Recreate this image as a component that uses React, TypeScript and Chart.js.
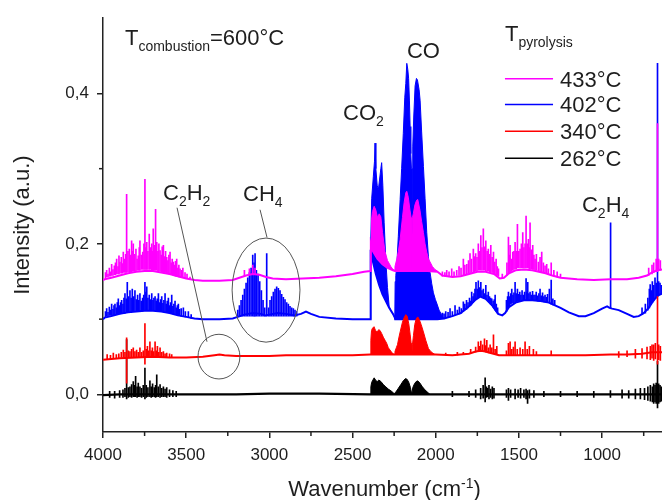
import React, { useEffect, useRef } from 'react';
import { Chart, registerables } from 'chart.js';

Chart.register(...registerables);

type P = [number, number];
type S = [number, number, number];

const FONT = '"Liberation Sans", Arial, Helvetica, sans-serif';
const TEXT = '#1e1e1e';
const AXIS = '#222222';

const seriesLabels = ['433°C', '402°C', '340°C', '262°C'];
const seriesColors = ['#ff00ff', '#0000ff', '#ff0000', '#000000'];
// drawing order (lower = on top): magenta, red, blue, black
const seriesOrder = [1, 3, 2, 4];
const traceWidths = [2, 2, 2, 2.2];

const xTickValues = [4000, 3500, 3000, 2500, 2000, 1500, 1000];
const xTickLabels = ['4000', '3500', '3000', '2500', '2000', '1500', '1000'];
const xMinorTicks = [3750, 3250, 2750, 2250, 1750, 1250, 750];
const yTickValues = [0, 0.2, 0.4];
const yTickLabels = ['0,0', '0,2', '0,4'];
const yMinorTicks = [0.1, 0.3];

// ---------- 433°C (magenta) ----------
const magentaTrace: P[] = [
  [4000, 0.152], [3990, 0.153], [3950, 0.155], [3900, 0.158], [3850, 0.161], [3800, 0.163], [3750, 0.164],
  [3700, 0.164], [3650, 0.162], [3600, 0.16], [3550, 0.157], [3500, 0.154], [3450, 0.152], [3400, 0.151],
  [3300, 0.151], [3220, 0.152], [3180, 0.155], [3140, 0.158], [3100, 0.16], [3060, 0.159], [3020, 0.156],
  [2980, 0.154], [2900, 0.153], [2800, 0.154], [2700, 0.155], [2600, 0.157], [2500, 0.16], [2430, 0.163],
  [2393, 0.164], [2390, 0.2], [2377, 0.19], [2350, 0.18], [2320, 0.173], [2290, 0.168], [2257, 0.165],
  [2245, 0.164], [2150, 0.164], [2050, 0.164], [1990, 0.163], [1960, 0.158], [1900, 0.156], [1850, 0.157],
  [1800, 0.16], [1750, 0.163], [1700, 0.163], [1650, 0.16], [1615, 0.154], [1590, 0.155], [1560, 0.161],
  [1520, 0.165], [1470, 0.166], [1420, 0.165], [1380, 0.163], [1340, 0.161], [1300, 0.158], [1250, 0.155],
  [1150, 0.153], [1050, 0.152], [950, 0.153], [850, 0.153], [780, 0.155], [730, 0.158], [700, 0.162],
  [670, 0.165], [640, 0.166],
];
const magentaBand: P[] = [
  [2392, 0.164], [2389, 0.2], [2386, 0.232], [2380, 0.243], [2370, 0.25], [2360, 0.245], [2350, 0.235],
  [2340, 0.24], [2330, 0.236], [2320, 0.215], [2305, 0.19], [2290, 0.178], [2270, 0.17], [2257, 0.166],
  [2250, 0.165], [2245, 0.17], [2234, 0.18], [2225, 0.19], [2214, 0.206], [2200, 0.235], [2190, 0.255],
  [2180, 0.268], [2174, 0.27], [2165, 0.262], [2155, 0.245], [2148, 0.235], [2145, 0.2], [2144, 0.166],
  [2143, 0.2], [2140, 0.235], [2135, 0.24], [2125, 0.252], [2115, 0.258], [2108, 0.259], [2095, 0.245],
  [2085, 0.23], [2074, 0.215], [2064, 0.2], [2054, 0.189], [2044, 0.18], [2034, 0.176], [2020, 0.17],
  [2005, 0.166], [1990, 0.164],
];
const magentaLines: S[] = [
  [3985, 0.155, 0.162], [3978, 0.156, 0.165], [3970, 0.156, 0.16], [3962, 0.157, 0.168], [3955, 0.157, 0.163],
  [3948, 0.158, 0.173], [3940, 0.158, 0.166], [3932, 0.159, 0.171], [3925, 0.159, 0.175], [3918, 0.16, 0.18],
  [3910, 0.16, 0.17], [3904, 0.16, 0.184], [3898, 0.161, 0.176], [3890, 0.161, 0.182], [3884, 0.161, 0.174],
  [3878, 0.162, 0.189], [3870, 0.162, 0.18], [3864, 0.162, 0.186], [3858, 0.162, 0.266], [3850, 0.163, 0.19],
  [3842, 0.163, 0.193], [3835, 0.163, 0.185], [3828, 0.163, 0.204], [3822, 0.164, 0.19], [3818, 0.164, 0.2],
  [3810, 0.164, 0.186], [3802, 0.164, 0.193], [3795, 0.165, 0.18], [3788, 0.165, 0.184], [3782, 0.165, 0.195],
  [3778, 0.165, 0.204], [3770, 0.166, 0.185], [3761, 0.166, 0.189], [3754, 0.166, 0.2], [3748, 0.166, 0.286],
  [3742, 0.166, 0.195], [3737, 0.166, 0.202], [3730, 0.166, 0.19], [3722, 0.166, 0.213], [3715, 0.166, 0.195],
  [3707, 0.165, 0.2], [3702, 0.165, 0.19], [3698, 0.165, 0.22], [3690, 0.165, 0.198], [3684, 0.165, 0.246],
  [3677, 0.165, 0.202], [3670, 0.164, 0.19], [3664, 0.164, 0.2], [3657, 0.164, 0.191], [3650, 0.163, 0.185],
  [3644, 0.163, 0.196], [3637, 0.163, 0.198], [3630, 0.162, 0.183], [3624, 0.162, 0.19], [3617, 0.161, 0.182],
  [3610, 0.161, 0.178], [3604, 0.16, 0.185], [3597, 0.16, 0.189], [3590, 0.159, 0.175], [3584, 0.159, 0.18],
  [3577, 0.158, 0.176], [3570, 0.158, 0.172], [3564, 0.157, 0.177], [3557, 0.157, 0.18], [3550, 0.157, 0.168],
  [3544, 0.156, 0.172], [3537, 0.156, 0.167], [3528, 0.155, 0.165], [3520, 0.155, 0.168], [3507, 0.154, 0.162],
  [3495, 0.154, 0.16], [3477, 0.153, 0.156],
  [3150, 0.157, 0.165], [3120, 0.159, 0.167], [3100, 0.16, 0.172], [3086, 0.16, 0.168],
  [1960, 0.157, 0.163], [1945, 0.157, 0.162], [1934, 0.157, 0.165], [1920, 0.157, 0.163], [1904, 0.157, 0.167],
  [1890, 0.157, 0.163], [1874, 0.158, 0.165], [1860, 0.158, 0.17], [1848, 0.158, 0.168], [1834, 0.159, 0.18],
  [1825, 0.159, 0.172], [1813, 0.16, 0.173], [1803, 0.161, 0.178], [1794, 0.161, 0.187], [1785, 0.162, 0.18],
  [1774, 0.163, 0.193], [1767, 0.163, 0.183], [1760, 0.164, 0.187], [1752, 0.164, 0.182], [1744, 0.165, 0.2],
  [1737, 0.165, 0.19], [1729, 0.165, 0.211], [1722, 0.165, 0.195], [1714, 0.165, 0.22], [1707, 0.165, 0.196],
  [1699, 0.164, 0.204], [1691, 0.164, 0.19], [1684, 0.164, 0.193], [1676, 0.163, 0.186], [1669, 0.163, 0.198],
  [1661, 0.162, 0.182], [1653, 0.161, 0.189], [1645, 0.16, 0.176], [1637, 0.159, 0.18], [1630, 0.158, 0.17],
  [1623, 0.157, 0.167], [1600, 0.154, 0.16], [1572, 0.158, 0.175], [1563, 0.16, 0.209], [1556, 0.162, 0.185],
  [1553, 0.162, 0.198], [1545, 0.164, 0.18], [1537, 0.165, 0.189], [1530, 0.166, 0.19], [1523, 0.167, 0.202],
  [1516, 0.167, 0.19], [1509, 0.168, 0.226], [1501, 0.168, 0.19], [1493, 0.168, 0.193], [1485, 0.168, 0.2],
  [1477, 0.168, 0.215], [1470, 0.168, 0.195], [1463, 0.168, 0.2], [1457, 0.168, 0.237], [1450, 0.168, 0.2],
  [1443, 0.168, 0.206], [1438, 0.167, 0.195], [1433, 0.167, 0.228], [1425, 0.167, 0.192], [1417, 0.166, 0.198],
  [1410, 0.166, 0.185], [1403, 0.165, 0.18], [1395, 0.165, 0.186], [1383, 0.164, 0.176], [1373, 0.163, 0.182],
  [1363, 0.163, 0.189], [1353, 0.162, 0.175], [1343, 0.162, 0.171], [1333, 0.161, 0.173], [1323, 0.16, 0.167],
  [1306, 0.158, 0.175], [1290, 0.157, 0.165], [1270, 0.156, 0.163], [1250, 0.155, 0.16],
  [720, 0.158, 0.168], [700, 0.16, 0.172], [690, 0.162, 0.175], [675, 0.163, 0.18], [667, 0.163, 0.36],
  [660, 0.165, 0.18], [650, 0.165, 0.178],
];

// ---------- 402°C (blue) ----------
const blueTrace: P[] = [
  [4000, 0.1], [3990, 0.102], [3950, 0.104], [3900, 0.107], [3850, 0.109], [3800, 0.11], [3750, 0.111],
  [3700, 0.111], [3650, 0.11], [3600, 0.108], [3550, 0.105], [3500, 0.103], [3450, 0.101], [3400, 0.1],
  [3300, 0.1], [3220, 0.101], [3190, 0.103], [3150, 0.106], [3100, 0.108], [3050, 0.107], [3025, 0.105],
  [3000, 0.106], [2950, 0.108], [2900, 0.107], [2850, 0.105], [2810, 0.107], [2780, 0.11], [2750, 0.107],
  [2700, 0.103], [2600, 0.101], [2500, 0.1], [2393, 0.1], [2391, 0.185], [2377, 0.176], [2360, 0.16],
  [2340, 0.145], [2320, 0.133], [2300, 0.124], [2280, 0.115], [2257, 0.107], [2246, 0.102], [2244, 0.1],
  [2150, 0.1], [2050, 0.1], [1990, 0.1], [1950, 0.101], [1900, 0.104], [1850, 0.108], [1800, 0.117],
  [1760, 0.126], [1733, 0.13], [1700, 0.127], [1660, 0.118], [1625, 0.107], [1600, 0.105], [1583, 0.108],
  [1560, 0.116], [1520, 0.122], [1470, 0.125], [1420, 0.125], [1370, 0.124], [1320, 0.122], [1290, 0.119],
  [1250, 0.115], [1200, 0.109], [1140, 0.104], [1100, 0.104], [1050, 0.108], [1000, 0.114], [970, 0.117],
  [955, 0.115], [940, 0.114], [900, 0.112], [850, 0.107], [810, 0.103], [780, 0.104], [750, 0.108],
  [720, 0.115], [700, 0.122], [680, 0.128], [660, 0.132], [640, 0.134],
];
const blueBand: P[] = [
  [2393, 0.1], [2391, 0.2], [2385, 0.26], [2375, 0.29], [2368, 0.31], [2365, 0.334], [2360, 0.3],
  [2352, 0.278], [2345, 0.272], [2338, 0.285], [2330, 0.3], [2325, 0.308], [2318, 0.278], [2310, 0.228],
  [2300, 0.178], [2290, 0.142], [2280, 0.117], [2270, 0.112], [2257, 0.107], [2246, 0.102], [2244, 0.15],
  [2240, 0.158], [2234, 0.171], [2225, 0.21], [2214, 0.259], [2205, 0.3], [2195, 0.347], [2186, 0.395],
  [2180, 0.413], [2174, 0.44], [2168, 0.432], [2163, 0.42], [2158, 0.39], [2154, 0.356], [2150, 0.32],
  [2146, 0.3], [2144, 0.1], [2142, 0.3], [2138, 0.33], [2132, 0.37], [2124, 0.41], [2116, 0.42],
  [2110, 0.418], [2100, 0.405], [2094, 0.391], [2085, 0.35], [2074, 0.303], [2064, 0.26], [2054, 0.215],
  [2044, 0.183], [2034, 0.162], [2024, 0.147], [2014, 0.135], [2002, 0.126], [1992, 0.12], [1980, 0.112],
  [1965, 0.106], [1950, 0.1],
];
const blueLines: S[] = [
  [3985, 0.103, 0.11], [3978, 0.104, 0.114], [3970, 0.104, 0.109], [3962, 0.105, 0.116], [3955, 0.105, 0.112],
  [3948, 0.105, 0.12], [3940, 0.106, 0.113], [3934, 0.106, 0.118], [3928, 0.106, 0.12], [3920, 0.107, 0.115],
  [3914, 0.107, 0.122], [3908, 0.107, 0.127], [3900, 0.107, 0.118], [3894, 0.108, 0.122], [3888, 0.108, 0.125],
  [3880, 0.108, 0.12], [3874, 0.108, 0.128], [3868, 0.108, 0.134], [3860, 0.109, 0.127], [3854, 0.109, 0.149],
  [3846, 0.109, 0.13], [3838, 0.109, 0.138], [3831, 0.109, 0.128], [3824, 0.11, 0.14], [3816, 0.11, 0.13],
  [3808, 0.11, 0.138], [3800, 0.11, 0.126], [3792, 0.11, 0.132], [3785, 0.111, 0.125], [3778, 0.111, 0.134],
  [3770, 0.111, 0.124], [3762, 0.111, 0.128], [3755, 0.112, 0.132], [3748, 0.112, 0.149], [3742, 0.112, 0.136],
  [3737, 0.112, 0.143], [3730, 0.112, 0.128], [3722, 0.112, 0.132], [3715, 0.112, 0.126], [3707, 0.112, 0.134],
  [3700, 0.112, 0.125], [3694, 0.112, 0.128], [3687, 0.112, 0.13], [3680, 0.111, 0.124], [3674, 0.111, 0.127],
  [3667, 0.111, 0.134], [3660, 0.111, 0.122], [3654, 0.111, 0.126], [3647, 0.11, 0.13], [3640, 0.11, 0.121],
  [3634, 0.11, 0.125], [3627, 0.11, 0.134], [3620, 0.109, 0.12], [3614, 0.109, 0.124], [3607, 0.109, 0.128],
  [3600, 0.108, 0.118], [3594, 0.108, 0.122], [3587, 0.108, 0.132], [3580, 0.107, 0.117], [3574, 0.107, 0.12],
  [3567, 0.106, 0.124], [3560, 0.106, 0.115], [3553, 0.106, 0.118], [3547, 0.105, 0.12], [3540, 0.105, 0.113],
  [3530, 0.104, 0.114], [3517, 0.104, 0.115], [3505, 0.103, 0.11], [3487, 0.102, 0.11], [3470, 0.101, 0.106],
  // CH4 stretch band (R, Q, P branches)
  [3190, 0.104, 0.112], [3180, 0.104, 0.118], [3170, 0.104, 0.125], [3160, 0.104, 0.132], [3150, 0.104, 0.14],
  [3140, 0.104, 0.148], [3130, 0.104, 0.155], [3120, 0.104, 0.162], [3110, 0.104, 0.168], [3100, 0.104, 0.185],
  [3092, 0.104, 0.175], [3086, 0.104, 0.187], [3078, 0.104, 0.165], [3068, 0.104, 0.16], [3058, 0.104, 0.15],
  [3048, 0.104, 0.138], [3038, 0.104, 0.125], [3028, 0.104, 0.115], [3016, 0.104, 0.187], [3005, 0.104, 0.115],
  [2996, 0.104, 0.125], [2986, 0.104, 0.13], [2976, 0.104, 0.136], [2966, 0.104, 0.14], [2956, 0.104, 0.143],
  [2946, 0.104, 0.141], [2936, 0.104, 0.138], [2926, 0.104, 0.133], [2916, 0.104, 0.129], [2906, 0.104, 0.126],
  [2896, 0.104, 0.122], [2886, 0.104, 0.12], [2876, 0.104, 0.117], [2866, 0.104, 0.115], [2856, 0.104, 0.114],
  [2846, 0.104, 0.112], [2836, 0.104, 0.11],
  [1975, 0.101, 0.106], [1960, 0.101, 0.108], [1950, 0.102, 0.107], [1940, 0.102, 0.11], [1926, 0.103, 0.109],
  [1914, 0.103, 0.114], [1900, 0.104, 0.11], [1884, 0.105, 0.118], [1870, 0.106, 0.112], [1858, 0.107, 0.116],
  [1846, 0.108, 0.114], [1834, 0.11, 0.123], [1825, 0.112, 0.12], [1815, 0.113, 0.125], [1806, 0.115, 0.122],
  [1797, 0.117, 0.128], [1790, 0.118, 0.124], [1784, 0.12, 0.136], [1776, 0.122, 0.13], [1770, 0.124, 0.134],
  [1764, 0.126, 0.14], [1758, 0.127, 0.149], [1751, 0.128, 0.14], [1744, 0.129, 0.151], [1737, 0.13, 0.142],
  [1729, 0.13, 0.149], [1722, 0.13, 0.138], [1714, 0.129, 0.14], [1707, 0.128, 0.134], [1699, 0.127, 0.145],
  [1692, 0.126, 0.132], [1684, 0.124, 0.136], [1677, 0.122, 0.13], [1670, 0.12, 0.128], [1663, 0.118, 0.127],
  [1655, 0.116, 0.124], [1648, 0.114, 0.126], [1643, 0.112, 0.132], [1636, 0.11, 0.12], [1628, 0.108, 0.115],
  [1575, 0.11, 0.125], [1568, 0.114, 0.13], [1563, 0.116, 0.136], [1556, 0.118, 0.13], [1549, 0.12, 0.134],
  [1543, 0.121, 0.14], [1536, 0.122, 0.132], [1530, 0.122, 0.135], [1523, 0.123, 0.149], [1516, 0.123, 0.134],
  [1509, 0.124, 0.14], [1502, 0.124, 0.133], [1495, 0.124, 0.136], [1488, 0.125, 0.132], [1481, 0.125, 0.138],
  [1473, 0.125, 0.132], [1466, 0.125, 0.136], [1457, 0.126, 0.154], [1452, 0.126, 0.136], [1447, 0.126, 0.149],
  [1440, 0.126, 0.134], [1433, 0.125, 0.136], [1426, 0.125, 0.132], [1418, 0.125, 0.137], [1410, 0.125, 0.132],
  [1403, 0.125, 0.132], [1396, 0.125, 0.136], [1388, 0.124, 0.131], [1380, 0.124, 0.134], [1373, 0.124, 0.14],
  [1366, 0.124, 0.131], [1358, 0.124, 0.135], [1350, 0.123, 0.13], [1343, 0.123, 0.132], [1335, 0.123, 0.129],
  [1328, 0.122, 0.133], [1317, 0.122, 0.14], [1306, 0.12, 0.152], [1296, 0.119, 0.127], [1285, 0.118, 0.125],
  [949, 0.115, 0.228],
  [760, 0.106, 0.115], [740, 0.108, 0.12], [725, 0.112, 0.128], [716, 0.115, 0.14], [711, 0.118, 0.146],
  [705, 0.12, 0.138], [698, 0.122, 0.15], [690, 0.125, 0.145], [682, 0.127, 0.155], [675, 0.128, 0.148],
  [667, 0.13, 0.44], [660, 0.132, 0.15], [652, 0.133, 0.148], [645, 0.134, 0.145],
];

// ---------- 340°C (red) ----------
const redTrace: P[] = [
  [4000, 0.046], [3950, 0.047], [3900, 0.048], [3800, 0.049], [3700, 0.05], [3600, 0.049], [3500, 0.049],
  [3400, 0.05], [3330, 0.052], [3300, 0.053], [3270, 0.052], [3200, 0.051], [3100, 0.051], [3000, 0.051],
  [2900, 0.052], [2700, 0.052], [2500, 0.052], [2393, 0.053], [2200, 0.053], [2000, 0.053], [1900, 0.052],
  [1850, 0.053], [1800, 0.054], [1760, 0.057], [1730, 0.058], [1700, 0.057], [1670, 0.055], [1620, 0.052],
  [1500, 0.052], [1300, 0.052], [1100, 0.052], [950, 0.053], [850, 0.053], [760, 0.054], [700, 0.056],
  [640, 0.056],
];
const redBand: P[] = [
  [2393, 0.053], [2390, 0.072], [2386, 0.085], [2380, 0.088], [2371, 0.09], [2362, 0.085], [2352, 0.083],
  [2343, 0.086], [2335, 0.085], [2325, 0.081], [2315, 0.076], [2305, 0.072], [2295, 0.068], [2285, 0.062],
  [2275, 0.059], [2262, 0.055], [2250, 0.053], [2245, 0.057], [2237, 0.062], [2230, 0.066], [2222, 0.075],
  [2214, 0.083], [2200, 0.096], [2190, 0.102], [2180, 0.106], [2172, 0.104], [2162, 0.094], [2154, 0.08],
  [2148, 0.068], [2144, 0.053], [2140, 0.066], [2134, 0.078], [2126, 0.093], [2118, 0.1], [2108, 0.103],
  [2098, 0.099], [2088, 0.093], [2074, 0.083], [2060, 0.072], [2044, 0.061], [2030, 0.057], [2018, 0.055],
  [2005, 0.053],
];
const redLines: S[] = [
  [3975, 0.047, 0.053], [3955, 0.047, 0.052], [3938, 0.048, 0.055], [3920, 0.048, 0.053], [3905, 0.048, 0.054],
  [3890, 0.049, 0.056], [3878, 0.049, 0.059], [3868, 0.049, 0.056], [3858, 0.015, 0.075], [3848, 0.049, 0.058],
  [3838, 0.049, 0.057], [3828, 0.05, 0.06], [3818, 0.05, 0.062], [3808, 0.05, 0.057], [3798, 0.05, 0.059],
  [3788, 0.05, 0.056], [3778, 0.05, 0.062], [3768, 0.05, 0.056], [3758, 0.05, 0.058], [3748, 0.04, 0.094],
  [3740, 0.05, 0.06], [3733, 0.05, 0.064], [3725, 0.05, 0.058], [3718, 0.05, 0.07], [3710, 0.05, 0.058],
  [3703, 0.05, 0.062], [3695, 0.05, 0.057], [3687, 0.05, 0.07], [3680, 0.05, 0.058], [3673, 0.05, 0.064],
  [3665, 0.05, 0.056], [3657, 0.05, 0.062], [3647, 0.05, 0.056], [3637, 0.049, 0.057], [3627, 0.049, 0.054],
  [3617, 0.049, 0.055], [3600, 0.049, 0.054], [3587, 0.049, 0.053],
  [1940, 0.052, 0.055], [1870, 0.052, 0.056], [1834, 0.053, 0.056], [1790, 0.055, 0.06], [1760, 0.056, 0.063],
  [1744, 0.057, 0.07], [1736, 0.057, 0.064], [1729, 0.057, 0.071], [1718, 0.057, 0.066], [1707, 0.057, 0.074],
  [1700, 0.056, 0.065], [1693, 0.056, 0.072], [1683, 0.055, 0.062], [1673, 0.055, 0.066], [1663, 0.054, 0.062],
  [1653, 0.054, 0.079], [1643, 0.053, 0.06], [1633, 0.053, 0.064], [1575, 0.052, 0.058], [1563, 0.052, 0.068],
  [1553, 0.052, 0.07], [1543, 0.052, 0.06], [1533, 0.052, 0.063], [1523, 0.052, 0.07], [1510, 0.052, 0.06],
  [1493, 0.052, 0.062], [1477, 0.052, 0.06], [1463, 0.052, 0.07], [1450, 0.052, 0.06], [1437, 0.052, 0.064],
  [1413, 0.052, 0.06], [1395, 0.052, 0.057], [1306, 0.052, 0.058],
  [900, 0.049, 0.057], [850, 0.05, 0.058], [800, 0.048, 0.06], [760, 0.048, 0.061], [730, 0.047, 0.063],
  [710, 0.046, 0.064], [700, 0.048, 0.066], [690, 0.045, 0.066], [680, 0.047, 0.068], [667, 0.04, 0.13],
  [660, 0.046, 0.066], [650, 0.045, 0.064],
];

// ---------- 262°C (black) ----------
const blackTrace: P[] = [
  [4000, -0.001], [3900, 0.0], [3700, 0.0], [3500, 0.0], [3200, 0.0], [3000, 0.001], [2700, 0.001],
  [2393, 0.0], [2200, 0.0], [2000, 0.0], [1800, 0.0], [1600, 0.0], [1400, 0.0], [1200, 0.0], [1000, 0.0],
  [800, 0.0], [640, 0.0],
];
const blackBand: P[] = [
  [2393, 0.0], [2390, 0.01], [2385, 0.016], [2378, 0.019], [2370, 0.022], [2362, 0.019], [2352, 0.017],
  [2342, 0.019], [2335, 0.018], [2325, 0.016], [2315, 0.013], [2300, 0.01], [2285, 0.007], [2265, 0.004],
  [2250, 0.001], [2240, 0.003], [2225, 0.008], [2210, 0.013], [2195, 0.018], [2182, 0.021], [2172, 0.02],
  [2162, 0.016], [2152, 0.009], [2144, 0.0], [2138, 0.009], [2128, 0.014], [2118, 0.017], [2108, 0.018],
  [2095, 0.015], [2080, 0.01], [2065, 0.006], [2050, 0.003], [2035, 0.0],
];
const blackLines: S[] = [
  [3960, -0.004, 0.004], [3930, -0.005, 0.004], [3900, -0.004, 0.005], [3880, -0.004, 0.006], [3868, -0.003, 0.008],
  [3858, -0.006, 0.073], [3848, -0.004, 0.009], [3838, -0.003, 0.01], [3828, -0.004, 0.013], [3818, -0.003, 0.017],
  [3810, -0.003, 0.012], [3804, -0.003, 0.024], [3795, -0.004, 0.01], [3788, -0.003, 0.015], [3778, -0.003, 0.01],
  [3768, -0.004, 0.008], [3758, -0.003, 0.012], [3748, -0.006, 0.035], [3740, -0.004, 0.012], [3730, -0.003, 0.009],
  [3718, -0.003, 0.018], [3710, -0.004, 0.01], [3702, -0.003, 0.014], [3692, -0.003, 0.009], [3684, -0.004, 0.012],
  [3677, -0.003, 0.026], [3668, -0.003, 0.01], [3657, -0.004, 0.013], [3647, -0.003, 0.008], [3637, -0.003, 0.01],
  [3627, -0.003, 0.007], [3617, -0.004, 0.009], [3600, -0.003, 0.006], [3580, -0.003, 0.005], [3560, -0.003, 0.004],
  [1900, -0.003, 0.004], [1800, -0.003, 0.004], [1760, -0.004, 0.006], [1730, -0.006, 0.008], [1715, -0.005, 0.012],
  [1703, -0.01, 0.022], [1695, -0.004, 0.01], [1688, -0.003, 0.008], [1680, -0.006, 0.012], [1670, -0.004, 0.007],
  [1660, -0.006, 0.01], [1650, -0.005, 0.008], [1575, -0.004, 0.006], [1563, -0.008, 0.008], [1550, -0.004, 0.006],
  [1523, -0.006, 0.007], [1505, -0.004, 0.006], [1490, -0.005, 0.008], [1470, -0.004, 0.006], [1457, -0.006, 0.007],
  [1448, -0.012, 0.005], [1437, -0.005, 0.006], [1410, -0.004, 0.005], [1350, -0.003, 0.004], [1250, -0.003, 0.004],
  [1150, -0.003, 0.004], [1050, -0.004, 0.004], [950, -0.004, 0.005], [880, -0.005, 0.006], [840, -0.005, 0.005],
  [800, -0.006, 0.007], [770, -0.006, 0.008], [745, -0.007, 0.008], [725, -0.008, 0.01], [710, -0.009, 0.012],
  [698, -0.01, 0.01], [690, -0.012, 0.014], [682, -0.01, 0.012], [675, -0.012, 0.015], [667, -0.018, 0.044],
  [660, -0.012, 0.014], [652, -0.01, 0.012], [645, -0.009, 0.01],
];

const traces = [magentaTrace, blueTrace, redTrace, blackTrace];
const bands = [magentaBand, blueBand, redBand, blackBand];
const lines = [magentaLines, blueLines, redLines, blackLines];

// ---------- annotations (data coordinates) ----------
type Part = [string, number]; // 0 normal, 1 subscript, 2 superscript
const notes: { parts: Part[]; at: P }[] = [
  { parts: [['T', 0], ['combustion', 1], ['=600°C', 0]], at: [3868, 0.4644] },
  { parts: [['CO', 0], ['2', 1]], at: [2557, 0.3642] },
  { parts: [['CO', 0]], at: [2173, 0.4472] },
  { parts: [['T', 0], ['pyrolysis', 1]], at: [1584, 0.4697] },
  { parts: [['C', 0], ['2', 1], ['H', 0], ['4', 1]], at: [1121, 0.2428] },
  { parts: [['C', 0], ['2', 1], ['H', 0], ['2', 1]], at: [3639, 0.2586] },
  { parts: [['CH', 0], ['4', 1]], at: [3158, 0.2573] },
];
const ellipses: { c: P; r: P }[] = [
  { c: [3020, 0.1386], r: [204, 0.0692] },
  { c: [3303, 0.0502], r: [126, 0.0297] },
];
const leaders: [number, number, number, number][] = [
  [3555, 0.2481, 3375, 0.07],
  [3056, 0.2454, 3014, 0.2085],
];
const legendRows = [0.4195, 0.3853, 0.3496, 0.314];
const legendLineSpan: P = [1584, 1295];
const legendTextAt = 1253;

function drawRich(ctx: CanvasRenderingContext2D, parts: Part[], x: number, y: number, align: 'left' | 'center') {
  const fontFor = (k: number) => (k === 0 ? `22px ${FONT}` : `14px ${FONT}`);
  let total = 0;
  for (const [t, k] of parts) {
    ctx.font = fontFor(k);
    total += ctx.measureText(t).width;
  }
  let cx = align === 'center' ? x - total / 2 : x;
  ctx.textAlign = 'left';
  ctx.textBaseline = 'alphabetic';
  for (const [t, k] of parts) {
    ctx.font = fontFor(k);
    const dy = k === 1 ? 6 : k === 2 ? -8 : 0;
    ctx.fillText(t, cx, y + dy);
    cx += ctx.measureText(t).width;
  }
}

const overlay = {
  id: 'overlay',
  afterDraw(chart: any) {
    const { ctx, chartArea: ca } = chart;
    const xs = chart.scales.x;
    const ys = chart.scales.y;
    const X = (w: number) => xs.getPixelForValue(w);
    const Y = (v: number) => ys.getPixelForValue(v);
    ctx.save();
    // minor ticks
    ctx.strokeStyle = AXIS;
    ctx.lineWidth = 1.5;
    for (const w of xMinorTicks) {
      ctx.beginPath();
      ctx.moveTo(X(w), ca.bottom);
      ctx.lineTo(X(w), ca.bottom + 4);
      ctx.stroke();
    }
    for (const v of yMinorTicks) {
      ctx.beginPath();
      ctx.moveTo(ca.left - 4, Y(v));
      ctx.lineTo(ca.left, Y(v));
      ctx.stroke();
    }
    // ellipses and leader lines
    ctx.strokeStyle = '#555555';
    ctx.lineWidth = 1;
    for (const e of ellipses) {
      const cx = X(e.c[0]);
      const cy = Y(e.c[1]);
      const rx = Math.abs(X(e.c[0] + e.r[0]) - cx);
      const ry = Math.abs(Y(e.c[1] + e.r[1]) - cy);
      ctx.beginPath();
      ctx.ellipse(cx, cy, rx, ry, 0, 0, Math.PI * 2);
      ctx.stroke();
    }
    for (const [w1, v1, w2, v2] of leaders) {
      ctx.beginPath();
      ctx.moveTo(X(w1), Y(v1));
      ctx.lineTo(X(w2), Y(v2));
      ctx.stroke();
    }
    // text annotations
    ctx.fillStyle = TEXT;
    for (const n of notes) drawRich(ctx, n.parts, X(n.at[0]), Y(n.at[1]), 'left');
    // legend
    legendRows.forEach((v, i) => {
      ctx.strokeStyle = seriesColors[i];
      ctx.lineWidth = 1.5;
      ctx.beginPath();
      ctx.moveTo(X(legendLineSpan[0]), Y(v));
      ctx.lineTo(X(legendLineSpan[1]), Y(v));
      ctx.stroke();
      ctx.fillStyle = TEXT;
      ctx.font = `22px ${FONT}`;
      ctx.textAlign = 'left';
      ctx.textBaseline = 'alphabetic';
      ctx.fillText(seriesLabels[i], X(legendTextAt), Y(v) + 8);
    });
    // axis titles
    ctx.fillStyle = TEXT;
    ctx.save();
    ctx.translate(23, (ca.top + ca.bottom) / 2);
    ctx.rotate(-Math.PI / 2);
    ctx.font = `22px ${FONT}`;
    ctx.textAlign = 'center';
    ctx.textBaseline = 'middle';
    ctx.fillText('Intensity (a.u.)', 0, 0);
    ctx.restore();
    drawRich(ctx, [['Wavenumber (cm', 0], ['-1', 2], [')', 0]], (ca.left + ca.right) / 2 + 2, 496, 'center');
    ctx.restore();
  },
};

export default function App() {
  const ref = useRef<HTMLCanvasElement | null>(null);
  useEffect(() => {
    if (!ref.current) return;
    const datasets: any[] = [];
    traces.forEach((tr, i) => {
      const color = seriesColors[i];
      const order = seriesOrder[i];
      datasets.push({
        type: 'line',
        data: tr.map(([x, y]) => ({ x, y })),
        borderColor: color,
        borderWidth: traceWidths[i],
        pointRadius: 0,
        fill: false,
        order,
      });
      datasets.push({
        type: 'line',
        data: bands[i].map(([x, y]) => ({ x, y })),
        borderColor: color,
        backgroundColor: color,
        borderWidth: 1,
        pointRadius: 0,
        fill: '-1',
        order,
      });
      datasets.push({
        type: 'bar',
        data: lines[i].map(([x, lo, hi]) => ({ x, y: [lo, hi] })),
        backgroundColor: color,
        borderWidth: 0,
        barThickness: 1,
        grouped: false,
        order,
      });
    });
    const tickFont = { family: FONT, size: 17 };
    const chart = new Chart(ref.current, {
      type: 'line',
      data: { datasets },
      options: {
        responsive: false,
        animation: false,
        devicePixelRatio: 1,
        layout: { padding: { top: 15, right: 0, left: 0, bottom: 0 } },
        plugins: { legend: { display: false }, tooltip: { enabled: false } },
        elements: { point: { radius: 0 }, line: { tension: 0 } },
        scales: {
          x: {
            type: 'linear',
            reverse: true,
            min: 640,
            max: 4000,
            offset: false,
            afterBuildTicks: (s: any) => {
              s.ticks = xTickValues.map((v) => ({ value: v }));
            },
            afterFit: (s: any) => {
              s.height = 68;
            },
            ticks: {
              font: tickFont,
              color: TEXT,
              padding: 7,
              maxRotation: 0,
              autoSkip: false,
              callback: (v: any) => xTickLabels[xTickValues.indexOf(Number(v))] ?? '',
            },
            grid: { display: true, drawOnChartArea: false, drawTicks: true, tickLength: 6, color: AXIS, lineWidth: 1.5, offset: false },
            border: { display: true, color: AXIS, width: 1.5 },
          },
          y: {
            type: 'linear',
            min: -0.05,
            max: 0.5,
            afterBuildTicks: (s: any) => {
              s.ticks = yTickValues.map((v) => ({ value: v }));
            },
            afterFit: (s: any) => {
              s.width = 103;
            },
            ticks: {
              font: tickFont,
              color: TEXT,
              padding: 8,
              callback: (v: any) => yTickLabels[yTickValues.indexOf(Number(v))] ?? '',
            },
            grid: { display: true, drawOnChartArea: false, drawTicks: true, tickLength: 6, color: AXIS, lineWidth: 1.5 },
            border: { display: true, color: AXIS, width: 1.5 },
          },
        },
      } as any,
      plugins: [overlay],
    });
    return () => chart.destroy();
  }, []);
  return (
    <div style={{ position: 'absolute', left: 0, top: 0, width: 662, height: 500, background: '#ffffff' }}>
      <canvas ref={ref} width={662} height={500} style={{ display: 'block' }} />
    </div>
  );
}
